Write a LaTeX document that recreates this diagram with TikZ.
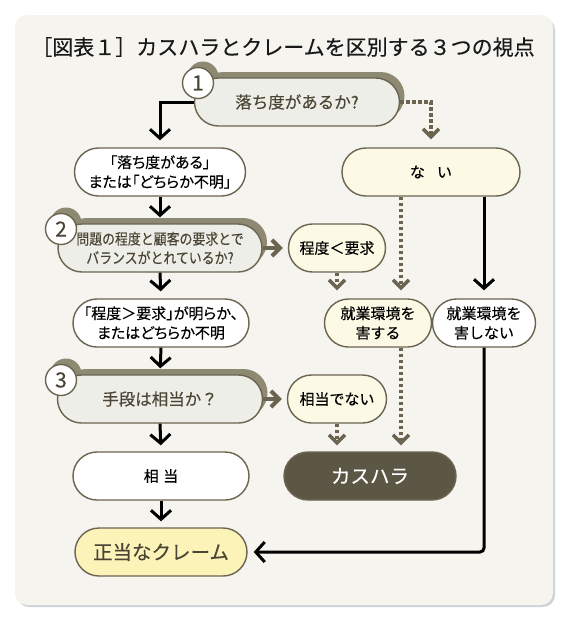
\documentclass[tikz,border=0pt]{standalone}
\usepackage{fontspec}
\setmainfont{Noto Sans CJK JP}[FakeBold=0.3]
\newfontfamily\narrowfont{Noto Sans CJK JP}[FakeStretch=0.86,FakeBold=0.3]
\newfontfamily\propfont{Noto Sans CJK JP}[RawFeature=+palt,FakeBold=0.3]
\usetikzlibrary{arrows.meta,positioning,calc,shadows}
\definecolor{edge}{HTML}{6B6451}
\definecolor{qshade}{HTML}{8E8972}
\definecolor{qfill}{HTML}{EEEEE8}
\definecolor{qtext}{HTML}{4A4535}
\definecolor{pale}{HTML}{FCFAE5}
\definecolor{claimfill}{HTML}{FBF3B8}
\definecolor{harass}{HTML}{5C5645}
\definecolor{panel}{HTML}{F5F4EE}
\definecolor{rim}{HTML}{CDD3DA}
\newcommand\bodyfont{\fontsize{15}{19.5}\selectfont}

\begin{document}
\begin{tikzpicture}[x=1pt, y=-1pt, font=\bodyfont,
  box/.style={draw=edge, line width=1.4pt, rounded corners=24pt, minimum height=48pt, align=center, inner sep=3pt},
  qbox/.style={box, fill=qfill, text=qtext, general shadow={fill=qshade, shadow xshift=5pt, shadow yshift=6pt}},
  num/.style={circle, draw=edge, fill=white, line width=1.4pt, minimum size=31pt, inner sep=0pt, text=qtext, font=\fontsize{21}{21}\selectfont},
  numshade/.style={circle, fill=qshade, minimum size=31pt, inner sep=0pt},
  flow/.style={-{Straight Barb[length=9pt,width=20pt]}, line width=3pt},
  side/.style={-{Straight Barb[length=8pt,width=16pt]}, draw=edge, line width=4pt},
  dots/.style={-{Straight Barb[length=8pt,width=16pt]}, draw=edge, line width=3.5pt, dash pattern=on 3.5pt off 2.5pt}]
\useasboundingbox (0,0) rectangle (570,622);
\fill[rim,rounded corners=12pt] (17,18) rectangle (555,607);
\fill[panel,rounded corners=12pt] (15,15) rectangle (553,605);
\node(title)[font=\fontsize{21}{24}\selectfont,text=black!90] at (283,47){［図表１］カスハラとクレームを区別する３つの視点};

% questions
\node(s1)[numshade] at (203,77){};
\node(q1)[qbox,minimum width=205pt,font=\fontsize{16.5}{20}\selectfont] at (297,102){落ち度があるか?};
\node(n1)[num] at (198,83){1};
\node(s2)[numshade] at (66,223){};
\node(q2)[qbox,minimum width=204pt,font=\narrowfont\fontsize{15}{19}\selectfont] at (160,248){問題の程度と顧客の要求とで\\バランスがとれているか?};
\node(n2)[num] at (61,229){2};
\node(s3)[numshade] at (66,374){};
\node(q3)[qbox,minimum width=205pt,font=\fontsize{16.5}{20}\selectfont] at (160,399){手段は相当か？};
\node(n3)[num] at (61,380){3};

% answers
\node(fault)[box,fill=white,minimum width=171pt,font=\propfont\bodyfont] at (160,172){「落ち度がある」\\または「どちらか不明」};
\node(none)[box,fill=pale,minimum width=178pt] at (431,172){な\hspace{0.8em}い};
\node(less)[box,fill=pale,minimum width=97pt] at (337,248){程度＜要求};
\node(more)[box,fill=white,minimum width=176pt,font=\propfont\bodyfont] at (161,323){「程度＞要求」が明らか、\\またはどちらか不明};
\node(harm)[box,fill=pale,minimum width=107pt] at (378,323){就業環境を\\害する};
\node(noharm)[box,fill=white,minimum width=103pt] at (484,323){就業環境を\\害しない};
\node(unfit)[box,fill=pale,minimum width=99pt] at (337,399){相当でない};
\node(fit)[box,fill=white,minimum width=176pt] at (161,476){相\hspace{0.3em}当};
\node(kasuhara)[box,fill=harass,text=white,minimum width=172pt,font=\fontsize{19.5}{20}\selectfont] at (370,476){カスハラ};
\node(claim)[box,fill=claimfill,text=qtext,minimum width=172pt,font=\fontsize{19.5}{20}\selectfont] at (161,552){正当なクレーム};
\coordinate(tap) at ([xshift=23pt]harm.north);

% Arrows
\draw[flow,shorten >=7pt] (q1.west) -| (fault.north);
\draw[dots,shorten >=8pt] (q1.east) -| (none.north);
\draw[flow,shorten >=6pt] (fault.south) -- (q2.north);
\draw[side,shorten >=5pt] (q2.east) -- (less.west);
\draw[flow,shorten >=7pt] (q2.south) -- (more.north);
\draw[dots,shorten >=8pt] (less.south) -- (less.south |- harm.north);
\draw[dots,shorten >=8pt] (none.south -| tap) -- (tap);
\draw[flow,shorten >=8pt] (none.south -| noharm.north) -- (noharm.north);
\draw[flow,shorten >=6pt] (more.south) -- (q3.north);
\draw[side,shorten >=5pt] (q3.east) -- (unfit.west);
\draw[flow,shorten >=6pt] (q3.south) -- (fit.north);
\draw[dots,shorten >=6pt] (unfit.south) -- (unfit.south |- kasuhara.north);
\draw[dots,shorten >=6pt] (tap |- harm.south) -- (tap |- kasuhara.north);
\draw[flow,shorten >=6pt] (fit.south) -- (claim.north);
\draw[flow,shorten >=6pt,rounded corners=4pt] (noharm.south) |- (claim.east);
\end{tikzpicture}
\end{document}
